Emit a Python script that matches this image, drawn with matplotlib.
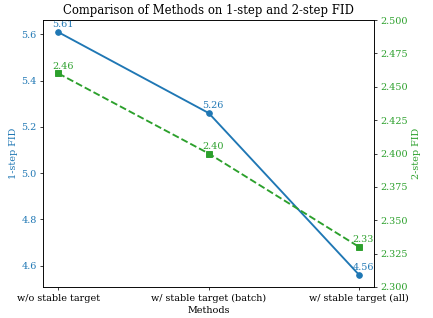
import matplotlib
matplotlib.use("Agg")
import matplotlib.pyplot as plt

plt.rcParams['font.family'] = 'DejaVu Serif'
plt.rcParams['font.size'] = 10.3

methods = ['w/o stable target', 'w/ stable target (batch)', 'w/ stable target (all)']
fid_1step = [5.61, 5.26, 4.56]
fid_2step = [2.46, 2.40, 2.33]

c1 = '#1f77b4'
c2 = '#2ca02c'

# 6.4 x 4.7 in at ~67.7 dpi -> 433 x 318 px
fig, ax1 = plt.subplots(figsize=(6.4, 4.7), dpi=67.66)
x = range(len(methods))

ax1.plot(x, fid_1step, color=c1, marker='o', linewidth=2)
ax1.set_ylabel('1-step FID', color=c1)
ax1.tick_params(axis='y', labelcolor=c1)
ax1.set_xlabel('Methods')
ax1.set_xticks(list(x))
ax1.set_xticklabels(methods)
for xi, v in zip(x, fid_1step):
    ax1.annotate(f'{v:.2f}', (xi, v), textcoords='offset points', xytext=(4.5, 5),
                 ha='center', color=c1)

ax2 = ax1.twinx()
ax2.plot(x, fid_2step, color=c2, marker='s', linewidth=2, linestyle='--')
ax2.set_ylabel('2-step FID', color=c2)
ax2.tick_params(axis='y', labelcolor=c2)
ax2.set_ylim(2.3, 2.5)
for xi, v in zip(x, fid_2step):
    ax2.annotate(f'{v:.2f}', (xi, v), textcoords='offset points', xytext=(4.5, 5),
                 ha='center', color=c2)

ax1.set_title('Comparison of Methods on 1-step and 2-step FID', fontsize=12.4)
fig.subplots_adjust(left=0.1, right=0.864, top=0.937, bottom=0.0975)
fig.savefig('out.png')
